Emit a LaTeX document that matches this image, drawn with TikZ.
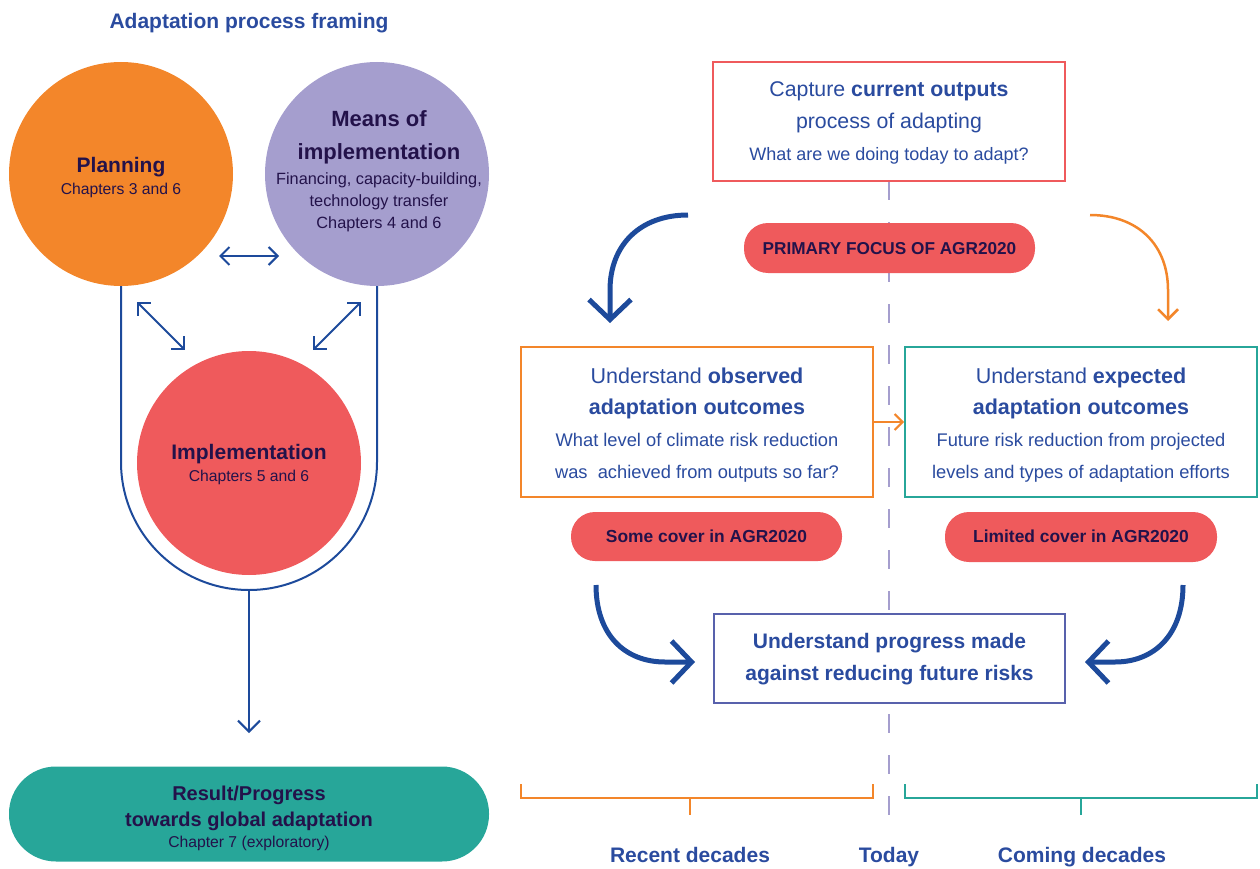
\documentclass[tikz,border=0pt]{standalone}
\usepackage{fontspec}
\setmainfont{Liberation Sans}
\usetikzlibrary{arrows.meta}
\definecolor{cOrange}{HTML}{F3862A}
\definecolor{cLav}{HTML}{A59ECE}
\definecolor{cRed}{HTML}{EF5A5C}
\definecolor{cTeal}{HTML}{27A699}
\definecolor{cBlue}{HTML}{1D4A9B}
\definecolor{cTxt}{HTML}{2A4B9F}
\definecolor{cDark}{HTML}{23124A}
\definecolor{cBox}{HTML}{5861AC}
\newcommand{\fs}[1]{\fontsize{#1}{#1}\selectfont}
\tikzset{
  circ/.style={circle, minimum size=224pt, inner sep=0pt},
  pill/.style={rounded corners=24pt, fill=cRed, inner sep=0pt},
  tb/.style={anchor=base, inner sep=0pt, text=cTxt},
  td/.style={anchor=base, inner sep=0pt, text=cDark},
  bluearrow/.style={draw=cBlue, line width=2pt, -{Straight Barb[length=11pt,width=22pt]}},
  bluedbl/.style={draw=cBlue, line width=2pt, {Straight Barb[length=9pt,width=18pt]}-{Straight Barb[length=9pt,width=18pt]}},
  bigarrow/.style={draw=cBlue, line width=5pt, -{Straight Barb[length=20pt,width=42pt]}},
  orarrow/.style={draw=cOrange, line width=2.5pt, -{Straight Barb[length=10pt,width=20pt]}},
  bracket/.style={line width=2.5pt},
}
\begin{document}
\begin{tikzpicture}[x=1pt,y=-1pt]
\useasboundingbox (0,0) rectangle (1260,869);
% ---------- LEFT ----------
\node[tb, font=\fs{21}\bfseries] (title) at (249,29) {Adaptation process framing};
% U-shape behind
\coordinate (uL) at (121,286);
\coordinate (uR) at (377,286);
\coordinate (ubot) at (249,590);
\draw[cBlue, line width=2pt] (uL) -- (121,462) arc[start angle=180, end angle=0, radius=128] -- (uR);
\node[circ, fill=cOrange] (plan) at (121,174) {};
\node[circ, fill=cLav] (means) at (377,174) {};
\node[circ, fill=cRed] (impl) at (249,463) {};
\node[td, font=\fs{21}\bfseries] (plan1) at (121,173) {Planning};
\node[td, font=\fs{15.7}] (plan2) at (121,195) {Chapters 3 and 6};
\node[td, font=\fs{22}\bfseries] (me1) at (379,127) {Means of};
\node[td, font=\fs{22}\bfseries] (me2) at (379,160) {implementation};
\node[td, font=\fs{16.3}] (me3) at (379,185) {Financing, capacity-building,};
\node[td, font=\fs{16.3}] (me4) at (379,206) {technology transfer};
\node[td, font=\fs{16.3}] (me5) at (379,228) {Chapters 4 and 6};
\node[td, font=\fs{21}\bfseries] (im1) at (249,459) {Implementation};
\node[td, font=\fs{15.7}] (im2) at (249,481) {Chapters 5 and 6};
% arrows among circles
\coordinate (h1) at (219,256); \coordinate (h2) at (279,256);
\draw[bluedbl] (h1) -- (h2);
\coordinate (d1) at (137,302); \coordinate (d2) at (185,350);
\draw[bluedbl] (d1) -- (d2);
\coordinate (d3) at (361,302); \coordinate (d4) at (313,350);
\draw[bluedbl] (d3) -- (d4);
% result
\node[fill=cTeal, rounded corners=47pt, minimum width=480pt, minimum height=95pt, inner sep=0pt] (res) at (249,814) {};
\coordinate (resTop) at (249,733);
\draw[bluearrow] (ubot) -- (resTop);
\node[td, font=\fs{20}\bfseries] (re1) at (249,800) {Result/Progress};
\node[td, font=\fs{20}\bfseries] (re2) at (249,826) {towards global adaptation};
\node[td, font=\fs{15.7}] (re3) at (249,847) {Chapter 7 (exploratory)};
% ---------- RIGHT ----------
\coordinate (dashTop) at (889,181);
\coordinate (dashBot) at (889,818);
\draw[cLav, line width=2.5pt, dash pattern=on 19pt off 22pt] (dashTop) -- (dashBot);
\node[draw=cRed, line width=2pt, fill=white, minimum width=352pt, minimum height=119pt, inner sep=0pt] (cap) at (889,121.5) {};
\node[tb, font=\fs{21.3}] (ca1) at (889,97) {Capture \textbf{current outputs}};
\node[tb, font=\fs{21.3}] (ca2) at (889,129) {process of adapting};
\node[tb, font=\fs{18}] (ca3) at (889,161) {What are we doing today to adapt?};
\node[pill, minimum width=291pt, minimum height=50pt] (prim) at (889.5,248) {};
\node[td, font=\fs{17.2}\bfseries] (pr1) at (889.5,254) {PRIMARY FOCUS OF AGR2020};
% curved arrows top
\coordinate (a1s) at (688,215); \coordinate (a1e) at (610,323);
\draw[bigarrow] (a1s) .. controls (640,215) and (610,245) .. (610,290) -- (a1e);
\coordinate (a2s) at (1090,215); \coordinate (a2e) at (1168,321);
\draw[orarrow] (a2s) .. controls (1138,215) and (1168,245) .. (1168,290) -- (a2e);
% observed / expected boxes
\node[draw=cOrange, line width=2pt, fill=white, minimum width=352pt, minimum height=150pt, inner sep=0pt] (obs) at (697,422) {};
\node[draw=cTeal, line width=2pt, fill=white, minimum width=352pt, minimum height=150pt, inner sep=0pt] (exp) at (1081,422) {};
\draw[orarrow, line width=2pt, -{Straight Barb[length=8pt,width=16pt]}] (obs.east) -- (exp.west);
\node[tb, font=\fs{21.5}] (ob1) at (697,383) {Understand \textbf{observed}};
\node[tb, font=\fs{21.5}\bfseries] (ob2) at (697,414) {adaptation outcomes};
\node[tb, font=\fs{18.3}] (ob3) at (697,446) {What level of climate risk reduction};
\node[tb, font=\fs{18.3}] (ob4) at (697,478) {was\ \ achieved from outputs so far?};
\node[tb, font=\fs{21.5}] (ex1) at (1081,383) {Understand \textbf{expected}};
\node[tb, font=\fs{21.5}\bfseries] (ex2) at (1081,414) {adaptation outcomes};
\node[tb, font=\fs{18.3}] (ex3) at (1081,446) {Future risk reduction from projected};
\node[tb, font=\fs{18.3}] (ex4) at (1081,478) {levels and types of adaptation efforts};
\node[pill, minimum width=271pt, minimum height=49pt] (some) at (706.5,536.5) {};
\node[td, font=\fs{17.4}\bfseries] (so1) at (706.5,542) {Some cover in AGR2020};
\node[pill, minimum width=272pt, minimum height=50pt] (lim) at (1081,537) {};
\node[td, font=\fs{17.4}\bfseries] (li1) at (1081,542) {Limited cover in AGR2020};
% progress box
\node[draw=cBox, line width=2pt, fill=white, minimum width=351pt, minimum height=89pt, inner sep=0pt] (prog) at (889.5,658.5) {};
\node[tb, font=\fs{21}\bfseries] (pg1) at (889.5,648) {Understand progress made};
\node[tb, font=\fs{21}\bfseries] (pg2) at (889.5,680) {against reducing future risks};
\coordinate (b1s) at (596,585); \coordinate (b1e) at (695,662);
\draw[bigarrow] (b1s) .. controls (596,635) and (625,662) .. (665,662) -- (b1e);
\coordinate (b2s) at (1183,585); \coordinate (b2e) at (1085,662);
\draw[bigarrow] (b2s) .. controls (1183,635) and (1154,662) .. (1115,662) -- (b2e);
% brackets
\coordinate (ob0) at (521,784); \coordinate (ob9) at (873,784);
\draw[cOrange, bracket] (ob0) -- (521,798) -- (873,798) -- (ob9);
\coordinate (obt) at (690,798); \coordinate (obt2) at (690,815);
\draw[cOrange, bracket] (obt) -- (obt2);
\coordinate (tb0) at (905,784); \coordinate (tb9) at (1257,784);
\draw[cTeal, bracket] (tb0) -- (905,798) -- (1257,798) -- (tb9);
\coordinate (tbt) at (1081,798); \coordinate (tbt2) at (1081,815);
\draw[cTeal, bracket] (tbt) -- (tbt2);
\node[tb, font=\fs{21}\bfseries] (rec) at (690,862) {Recent decades};
\node[tb, font=\fs{21}\bfseries] (tod) at (889,862) {Today};
\node[tb, font=\fs{21}\bfseries] (com) at (1082,862) {Coming decades};
\end{tikzpicture}
\end{document}
